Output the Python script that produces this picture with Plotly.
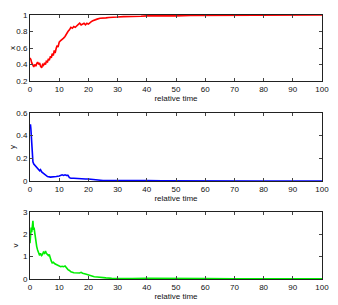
import plotly.graph_objects as go
from plotly.subplots import make_subplots

# time points (relative time)
t_x = [0, 0.3, 0.6, 1.0, 1.3, 1.6, 2.0, 2.3, 2.6, 3.0, 3.3, 3.6, 4.0, 4.3, 4.6, 5.0, 5.3, 5.6, 6.0, 6.3, 6.6,
       7.0, 7.3, 7.6, 8.0, 8.3, 8.6, 9.0, 9.3, 9.6, 10.0, 10.5, 11.0, 11.5, 12.0, 12.5, 13.0, 13.5, 14.0, 14.5,
       15.0, 15.5, 16.0, 16.5, 17.0, 17.5, 18.0, 18.5, 19.0, 19.5, 20.0, 20.5, 21.0, 21.5, 22.0, 22.5, 23.0,
       24.0, 25.0, 26.0, 27.0, 28.0, 30.0, 32.0, 34.0, 36.0, 38.0, 40.0, 43.0, 46.0, 50.0, 55.0, 60.0, 70.0,
       80.0, 90.0, 100.0]
x_vals = [0.48, 0.46, 0.42, 0.39, 0.37, 0.40, 0.38, 0.41, 0.43, 0.40, 0.42, 0.38, 0.36, 0.40, 0.39, 0.42, 0.40,
          0.44, 0.43, 0.47, 0.45, 0.50, 0.48, 0.53, 0.51, 0.57, 0.54, 0.60, 0.63, 0.61, 0.67, 0.69, 0.70, 0.72,
          0.74, 0.78, 0.80, 0.82, 0.85, 0.84, 0.86, 0.85, 0.87, 0.89, 0.90, 0.88, 0.89, 0.90, 0.88, 0.90, 0.89,
          0.91, 0.92, 0.93, 0.94, 0.95, 0.95, 0.96, 0.96, 0.965, 0.97, 0.97, 0.975, 0.98, 0.98, 0.985, 0.985,
          0.99, 0.99, 0.985, 0.99, 0.995, 0.995, 0.997, 0.998, 0.999, 1.0]

t_y = [0, 0.15, 0.3, 0.45, 0.6, 0.8, 1.0, 1.3, 1.6, 2.0, 2.5, 3.0, 3.3, 3.6, 4.0, 4.5, 5.0, 5.5, 6.0, 7.0,
       8.0, 9.0, 10.0, 10.5, 11.0, 11.5, 12.0, 12.5, 13.0, 13.5, 14.0, 15.0, 16.0, 17.0, 18.0, 19.0, 20.0,
       21.0, 22.0, 23.0, 25.0, 28.0, 30.0, 35.0, 40.0, 45.0, 50.0, 60.0, 70.0, 80.0, 90.0, 100.0]
y_vals = [0.48, 0.50, 0.46, 0.38, 0.30, 0.22, 0.17, 0.15, 0.14, 0.13, 0.12, 0.10, 0.09, 0.10, 0.08, 0.07,
          0.06, 0.05, 0.04, 0.035, 0.035, 0.04, 0.045, 0.05, 0.055, 0.05, 0.055, 0.05, 0.05, 0.03, 0.025,
          0.025, 0.022, 0.02, 0.02, 0.018, 0.018, 0.015, 0.012, 0.008, 0.005, 0.004, 0.003, 0.003, 0.004,
          0.003, 0.002, 0.002, 0.001, 0.001, 0.001, 0.001]

t_v = [0, 0.2, 0.4, 0.6, 0.8, 1.0, 1.2, 1.4, 1.6, 1.8, 2.0, 2.3, 2.6, 3.0, 3.3, 3.6, 4.0, 4.3, 4.6, 5.0,
       5.3, 5.6, 6.0, 6.3, 6.6, 7.0, 7.3, 7.6, 8.0, 8.5, 9.0, 9.5, 10.0, 10.5, 11.0, 11.5, 12.0, 12.5, 13.0,
       13.5, 14.0, 15.0, 16.0, 17.0, 17.5, 18.0, 19.0, 20.0, 21.0, 22.0, 23.0, 24.0, 26.0, 28.0, 30.0,
       35.0, 40.0, 45.0, 50.0, 60.0, 70.0, 80.0, 90.0, 100.0]
v_vals = [1.6, 2.1, 2.3, 2.1, 2.4, 2.6, 2.2, 2.3, 2.1, 1.9, 1.6, 1.45, 1.3, 1.1, 1.05, 1.15, 1.05, 1.1,
          1.2, 1.15, 1.25, 1.15, 1.1, 1.05, 1.1, 0.85, 0.8, 0.72, 0.75, 0.68, 0.65, 0.6, 0.58, 0.55, 0.57,
          0.55, 0.58, 0.48, 0.42, 0.38, 0.32, 0.28, 0.26, 0.27, 0.3, 0.26, 0.22, 0.17, 0.13, 0.1, 0.09,
          0.07, 0.05, 0.03, 0.02, 0.02, 0.03, 0.02, 0.02, 0.015, 0.01, 0.01, 0.01, 0.01]

y_titles = ["x", "y", "v"]
colors = ["#ff0000", "#0000ff", "#00ee00"]
y_ranges = [[0.2, 1.0], [0, 0.6], [0, 3]]
y_ticks = [[0.2, 0.4, 0.6, 0.8, 1], [0, 0.2, 0.4, 0.6], [0, 1, 2, 3]]
x_ticks = [0, 10, 20, 30, 40, 50, 60, 70, 80, 90, 100]

fig = make_subplots(rows=3, cols=1)
series = [(t_x, x_vals), (t_y, y_vals), (t_v, v_vals)]
for i, (tt, vv) in enumerate(series):
    fig.add_trace(go.Scatter(x=tt, y=vv, mode="lines", line=dict(color=colors[i], width=1.6),
                             showlegend=False), row=i + 1, col=1)

domains = [[0.75, 1.0], [0.371, 0.629], [0.0, 0.254]]
font = dict(family="Liberation Sans, Arial, sans-serif", size=8, color="#111")
for i in range(3):
    xa = "xaxis" if i == 0 else f"xaxis{i+1}"
    ya = "yaxis" if i == 0 else f"yaxis{i+1}"
    fig.layout[xa].update(range=[0, 100], domain=[0, 1], tickvals=x_ticks, ticks="inside", ticklen=3,
                          mirror="ticks", showline=True, linecolor="#222", linewidth=1, showgrid=False,
                          zeroline=False, tickfont=font, automargin=False,
                          title=dict(text="relative time", font=font, standoff=1))
    fig.layout[ya].update(range=y_ranges[i], tickvals=y_ticks[i], domain=domains[i], ticks="inside",
                          ticklen=3, mirror="ticks", showline=True, linecolor="#222", linewidth=1,
                          showgrid=False, zeroline=False, tickfont=font, automargin=False,
                          title=dict(text=y_titles[i], font=font, standoff=3))

# page body adds an 8px offset, so the figure is sized to fill the remaining window
fig.update_layout(width=330, height=297, margin=dict(l=22, r=16, t=7, b=26),
                  paper_bgcolor="white", plot_bgcolor="white")
fig.write_html("out.html")
